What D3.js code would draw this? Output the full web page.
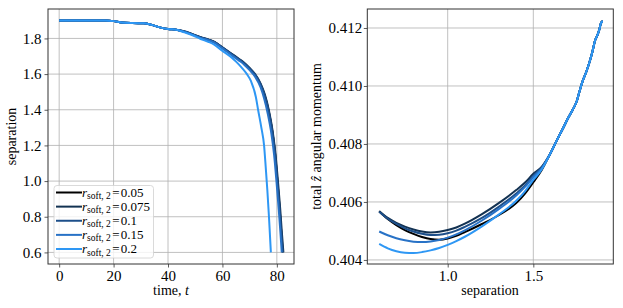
<!DOCTYPE html>
<html>
<head>
<meta charset="utf-8">
<script src="https://cdn.jsdelivr.net/npm/d3@7"></script>
</head>
<body style="margin:0;background:#fff">
<div id="chart"></div>
<script>
// softening radii (legend labels) and colours
const softRadii = ["0.05", "0.075", "0.1", "0.15", "0.2"];
const colors = ["#000000", "#133252", "#1d4f8a", "#2872c6", "#2e97f4"];

// left panel: separation vs time (shared early part, then per run)
const timeHead = [0, 10, 17, 20, 23, 27, 31, 34, 37, 40, 43];
const sepHead  = [1.9, 1.9, 1.9, 1.897, 1.889, 1.886, 1.885, 1.876, 1.862, 1.853, 1.849];

const timeTail = [
  [46, 49, 52, 55, 57, 60, 63, 66, 68, 70, 72, 74, 75.5, 77, 78.3, 79.3, 80.2, 81, 81.6, 82.1],
  [46, 49, 52, 55, 57, 60, 63, 66, 68, 70, 72, 74, 75.6, 77.1, 78.4, 79.4, 80.4, 81.2, 81.8, 82.4],
  [46, 49, 52, 55, 57, 60, 63, 66, 68, 70, 72, 74, 75.5, 77, 78.3, 79.3, 80.2, 81, 81.6, 82.2],
  [46, 49, 52, 55, 57, 60, 63, 66, 68, 70, 72, 74, 75.3, 76.7, 78, 79, 79.9, 80.7, 81.3, 81.8],
  [46, 49, 52, 55, 57, 60, 63, 65, 67, 69, 70.5, 72.3, 73.1, 74.3, 75.3, 75.9, 76.5, 77.1, 77.8]
];
const sepTail = [
  [1.838, 1.822, 1.805, 1.792, 1.780, 1.748, 1.715, 1.683, 1.660, 1.630, 1.595, 1.540, 1.480, 1.390, 1.280, 1.160, 1.000, 0.850, 0.720, 0.600],
  [1.840, 1.824, 1.807, 1.793, 1.781, 1.750, 1.718, 1.686, 1.663, 1.634, 1.600, 1.548, 1.485, 1.395, 1.285, 1.165, 1.000, 0.850, 0.720, 0.600],
  [1.839, 1.823, 1.806, 1.792, 1.780, 1.749, 1.716, 1.684, 1.661, 1.632, 1.597, 1.543, 1.482, 1.392, 1.282, 1.162, 1.000, 0.850, 0.720, 0.600],
  [1.837, 1.821, 1.803, 1.789, 1.776, 1.744, 1.710, 1.677, 1.653, 1.622, 1.585, 1.527, 1.465, 1.375, 1.265, 1.145, 0.990, 0.840, 0.715, 0.600],
  [1.834, 1.818, 1.797, 1.780, 1.765, 1.730, 1.698, 1.670, 1.638, 1.600, 1.560, 1.470, 1.400, 1.300, 1.200, 1.080, 0.950, 0.800, 0.600]
];

// right panel: angular momentum vs separation
const sepLow = [0.6, 0.65, 0.7, 0.75, 0.8, 0.85, 0.9, 0.95, 1.0, 1.05, 1.1, 1.2, 1.3, 1.4, 1.45, 1.5, 1.55];
const angLow = [
  [0.40568, 0.40541, 0.40520, 0.40503, 0.40490, 0.40479, 0.40472, 0.40470, 0.40474, 0.40483, 0.40496, 0.40524, 0.40555, 0.40596, 0.40628, 0.40668, 0.40711],
  [0.40568, 0.40545, 0.40528, 0.40515, 0.40505, 0.40498, 0.40495, 0.40497, 0.40503, 0.40512, 0.40525, 0.40558, 0.40597, 0.40641, 0.40666, 0.40697, 0.40722],
  [0.40566, 0.40542, 0.40524, 0.40509, 0.40498, 0.40490, 0.40486, 0.40487, 0.40492, 0.40501, 0.40514, 0.40545, 0.40584, 0.40629, 0.40656, 0.40690, 0.40720],
  [0.40498, 0.40485, 0.40475, 0.40468, 0.40463, 0.40462, 0.40464, 0.40469, 0.40477, 0.40488, 0.40502, 0.40536, 0.40576, 0.40622, 0.40651, 0.40686, 0.40717],
  [0.40455, 0.40440, 0.40430, 0.40425, 0.40424, 0.40427, 0.40433, 0.40441, 0.40452, 0.40465, 0.40480, 0.40516, 0.40557, 0.40604, 0.40636, 0.40676, 0.40713]
];
const sepHigh = [1.6, 1.64, 1.675, 1.70, 1.73, 1.755, 1.77, 1.79, 1.81, 1.83, 1.845, 1.86, 1.875, 1.885, 1.895, 1.905];
const angHigh = [0.40768, 0.40816, 0.40856, 0.40886, 0.40918, 0.40950, 0.40982, 0.41020, 0.41050, 0.41086, 0.41118, 0.41156, 0.41176, 0.41194, 0.41217, 0.41224];

const timeTicks = [0, 20, 40, 60, 80];
const sepTicks = [0.6, 0.8, 1.0, 1.2, 1.4, 1.6, 1.8];
const sepXTicks = [1.0, 1.5];
const angTicks = [0.404, 0.406, 0.408, 0.410, 0.412];

const SERIF = '"Liberation Serif", "Times New Roman", serif';
const W = 623, H = 308;
const svg = d3.select("#chart").append("svg").attr("width", W).attr("height", H)
  .style("display", "block");

// build series
const leftSeries = softRadii.map((r, i) => ({
  color: colors[i],
  pts: timeHead.map((t, j) => [t, sepHead[j]])
        .concat(timeTail[i].map((t, j) => [t, sepTail[i][j]]))
}));
const rightSeries = softRadii.map((r, i) => ({
  color: colors[i],
  pts: sepLow.map((s, j) => [s, angLow[i][j]])
        .concat(sepHigh.map((s, j) => [s, angHigh[j]]))
}));

function panel(opt) {
  const x = d3.scaleLinear().domain(opt.xDomain).range([opt.x0, opt.x1]);
  const y = d3.scaleLinear().domain(opt.yDomain).range([opt.y1, opt.y0]);
  const g = svg.append("g");

  // grid
  const grid = g.append("g");
  grid.selectAll(".gx").data(opt.xTicks).join("line")
    .attr("x1", d => x(d)).attr("x2", d => x(d))
    .attr("y1", opt.y0).attr("y2", opt.y1)
    .attr("stroke", "#b0b0b0").attr("stroke-width", 0.8);
  grid.selectAll(".gy").data(opt.yTicks).join("line")
    .attr("y1", d => y(d)).attr("y2", d => y(d))
    .attr("x1", opt.x0).attr("x2", opt.x1)
    .attr("stroke", "#b0b0b0").attr("stroke-width", 0.8);

  // lines
  const line = d3.line().x(d => x(d[0])).y(d => y(d[1])).curve(d3.curveMonotoneX);
  g.append("defs").append("clipPath").attr("id", opt.id)
    .append("rect").attr("x", opt.x0).attr("y", opt.y0)
    .attr("width", opt.x1 - opt.x0).attr("height", opt.y1 - opt.y0);
  g.append("g").attr("clip-path", `url(#${opt.id})`)
    .selectAll("path").data(opt.series).join("path")
    .attr("d", d => line(d.pts))
    .attr("fill", "none")
    .attr("stroke", d => d.color)
    .attr("stroke-width", 2)
    .attr("stroke-linejoin", "round");

  // axes
  const ax = g.append("g").attr("transform", `translate(0,${opt.y1})`)
    .call(d3.axisBottom(x).tickValues(opt.xTicks).tickFormat(opt.xFmt).tickSize(3.5).tickPadding(3));
  const ay = g.append("g").attr("transform", `translate(${opt.x0},0)`)
    .call(d3.axisLeft(y).tickValues(opt.yTicks).tickFormat(opt.yFmt).tickSize(3.5).tickPadding(opt.yPad));
  [ax, ay].forEach(a => a.select(".domain").remove());
  g.selectAll(".tick line").attr("stroke", "#333").attr("stroke-width", 0.8);
  g.selectAll(".tick text").style("font-size", "15px").attr("fill", "#000");

  // frame
  g.append("rect").attr("x", opt.x0).attr("y", opt.y0)
    .attr("width", opt.x1 - opt.x0).attr("height", opt.y1 - opt.y0)
    .attr("fill", "none").attr("stroke", "#333").attr("stroke-width", 1);
  return { x, y, g };
}

const left = panel({
  id: "clipL", x0: 48, x1: 294, y0: 9, y1: 264,
  xDomain: [-4.1, 86.3], yDomain: [0.535, 1.965],
  xTicks: timeTicks, yTicks: sepTicks, yPad: 3,
  xFmt: d3.format("d"), yFmt: d3.format(".1f"),
  series: leftSeries
});
const right = panel({
  id: "clipR", x0: 367.3, x1: 613.3, y0: 9, y1: 264,
  xDomain: [0.5305, 1.967], yDomain: [0.40386, 0.412655],
  xTicks: sepXTicks, yTicks: angTicks, yPad: 1.5,
  xFmt: d3.format(".1f"), yFmt: d3.format(".3f"),
  series: rightSeries
});

// axis labels
const lab = svg.append("g").style("font-size", "14px").attr("fill", "#000");
lab.append("text").attr("x", 171).attr("y", 295).attr("text-anchor", "middle")
  .html('time, <tspan font-style="italic">t</tspan>');
lab.append("text").attr("x", 490).attr("y", 295).attr("text-anchor", "middle").text("separation");
lab.append("text").attr("transform", "translate(16,136.5) rotate(-90)")
  .attr("text-anchor", "middle").text("separation");
lab.append("text").attr("transform", "translate(321,136.5) rotate(-90)")
  .attr("text-anchor", "middle")
  .html('total <tspan font-style="italic">ẑ</tspan> angular momentum');

// legend
const leg = svg.append("g");
leg.append("rect").attr("x", 54).attr("y", 185.5).attr("width", 99.5).attr("height", 72.5)
  .attr("rx", 3).attr("fill", "#fff").attr("fill-opacity", 0.8)
  .attr("stroke", "#d0d0d0").attr("stroke-width", 0.8);
const ly = d3.scalePoint().domain(softRadii).range([192.5, 249]);
const items = leg.selectAll("g.item").data(softRadii).join("g").attr("class", "item")
  .attr("transform", d => `translate(0,${ly(d)})`);
items.append("line").attr("x1", 56).attr("x2", 82).attr("y1", 0).attr("y2", 0)
  .attr("stroke", (d, i) => colors[i]).attr("stroke-width", 2);
items.append("text").attr("x", 82).attr("y", 4).style("font-size", "13px")
  .html(d => `<tspan font-style="italic">r</tspan><tspan style="font-size:9.5px" dy="2.5">soft, 2</tspan><tspan dy="-2.5" dx="1.5">=</tspan><tspan dx="1">${d}</tspan>`);

// serif everywhere
svg.selectAll("text").style("font-family", SERIF);
svg.selectAll("g").attr("font-family", null);
</script>
</body>
</html>
